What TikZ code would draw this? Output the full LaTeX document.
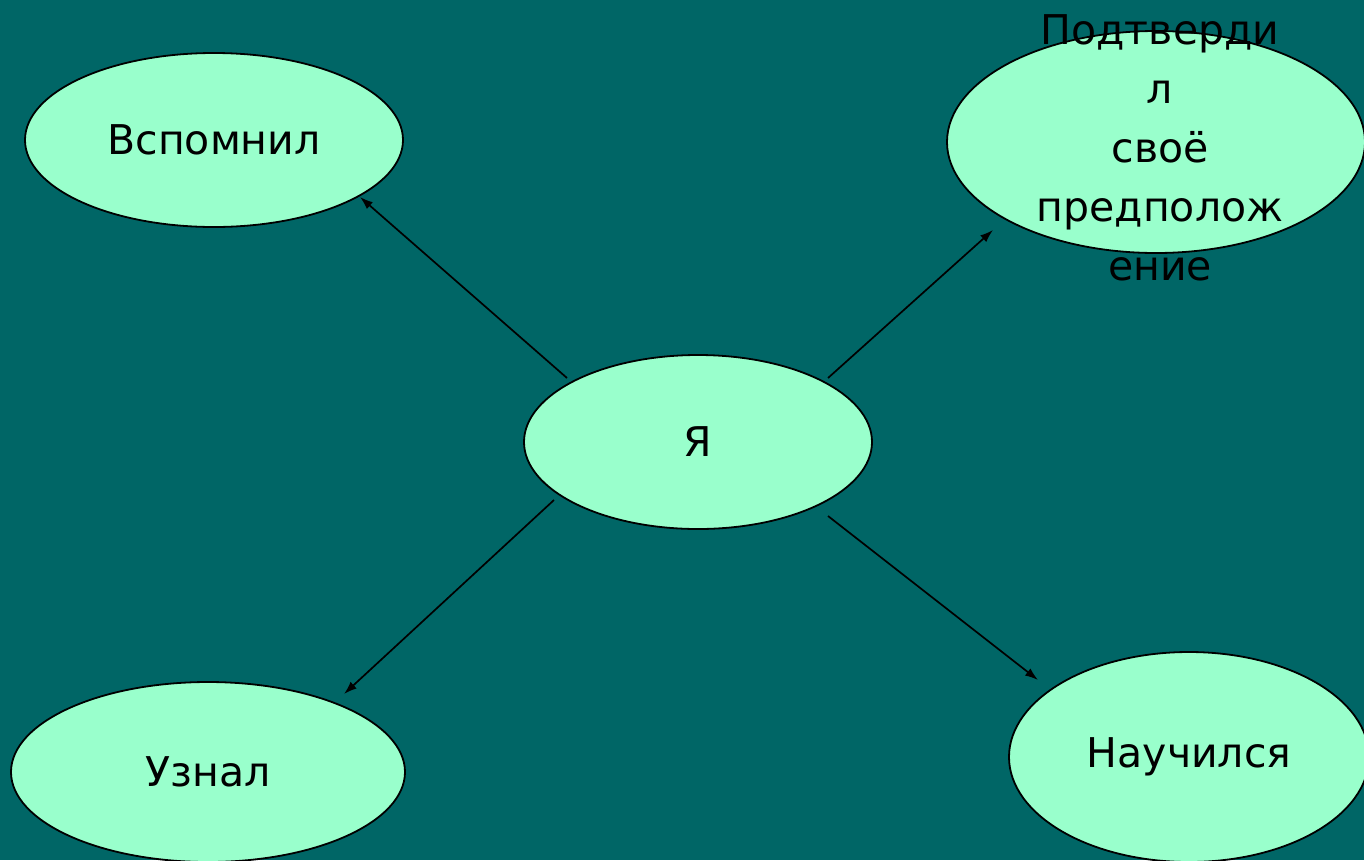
\documentclass[tikz,border=0pt]{standalone}
\usepackage{fontspec}
\setmainfont{DejaVu Sans}
\usetikzlibrary{arrows.meta,shapes.geometric}
\definecolor{bgteal}{RGB}{0,102,102}
\definecolor{mint}{RGB}{153,255,204}
\begin{document}
\begin{tikzpicture}[x=1pt,y=-1pt,
  bubble/.style={ellipse, draw=black, line width=1.8pt, fill=mint, inner sep=0pt},
  lbl/.style={font=\fontsize{41}{59}\selectfont, text=black, align=center},
  conn/.style={line width=1.7pt, -{Latex[length=13pt,width=9pt]}}]
\fill[bgteal] (0,0) rectangle (1364,860);
\useasboundingbox (0,0) rectangle (1364,860);
\node[bubble, minimum width=378pt, minimum height=174pt] (vsp) at (214,140) {};
\node[lbl] at (vsp.center) {Вспомнил};
\node[bubble, minimum width=418pt, minimum height=222pt] (pod) at (1156,142) {};
\node[lbl] at (1160,148) {Подтверди\\л\\своё\\предполож\\ение};
\node[bubble, minimum width=348pt, minimum height=174pt] (ya) at (698,442) {};
\node[lbl] at (ya.center) {Я};
\node[bubble, minimum width=394pt, minimum height=180pt] (uzn) at (208,772) {};
\node[lbl] at (uzn.center) {Узнал};
\node[bubble, minimum width=360pt, minimum height=210pt] (nau) at (1189,757) {};
\node[lbl] at (nau.center) {Научился};
\coordinate (s1) at (567,378); \coordinate (t1) at (360,197);
\coordinate (s2) at (828,378); \coordinate (t2) at (993,230);
\coordinate (s3) at (554,500); \coordinate (t3) at (344,694);
\coordinate (s4) at (828,516); \coordinate (t4) at (1038,680);
\draw[conn] (s1) -- (t1);
\draw[conn] (s2) -- (t2);
\draw[conn] (s3) -- (t3);
\draw[conn] (s4) -- (t4);
\end{tikzpicture}
\end{document}
